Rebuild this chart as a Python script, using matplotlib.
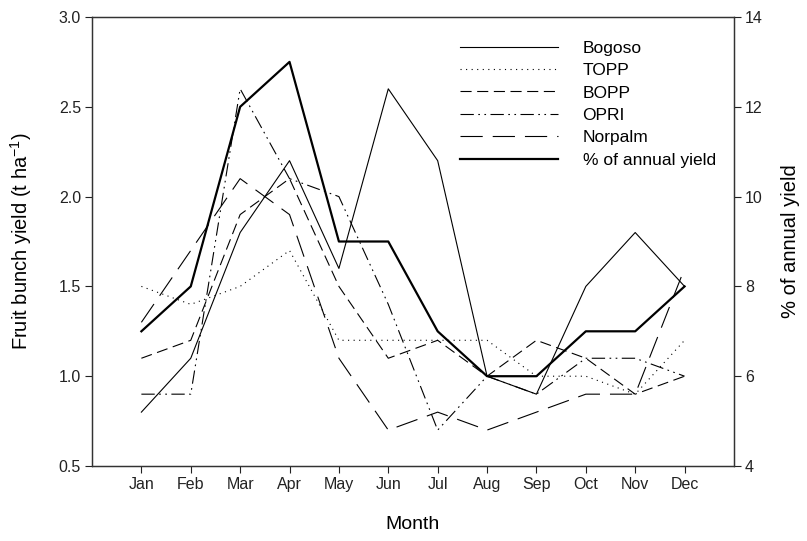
import matplotlib
matplotlib.use("Agg")
import matplotlib.pyplot as plt

plt.rcParams['font.family'] = ['Liberation Sans', 'DejaVu Sans']

# monthly fruit bunch yield (t/ha) per site
months = ['Jan', 'Feb', 'Mar', 'Apr', 'May', 'Jun',
          'Jul', 'Aug', 'Sep', 'Oct', 'Nov', 'Dec']
bogoso = [0.8, 1.1, 1.8, 2.2, 1.6, 2.6, 2.2, 1.0, 0.9, 1.5, 1.8, 1.5]
topp = [1.5, 1.4, 1.5, 1.7, 1.2, 1.2, 1.2, 1.2, 1.0, 1.0, 0.9, 1.2]
bopp = [1.1, 1.2, 1.9, 2.1, 1.5, 1.1, 1.2, 1.0, 1.2, 1.1, 0.9, 1.0]
opri = [0.9, 0.9, 2.6, 2.1, 2.0, 1.4, 0.7, 1.0, 0.9, 1.1, 1.1, 1.0]
norpalm = [1.3, 1.7, 2.1, 1.9, 1.1, 0.7, 0.8, 0.7, 0.8, 0.9, 0.9, 1.6]
# share of the annual yield (%)
pct_annual = [7, 8, 12, 13, 9, 9, 7, 6, 6, 7, 7, 8]

x = list(range(1, 13))

fig = plt.figure(figsize=(8.07, 5.41), dpi=100)
ax = fig.add_axes([0.114, 0.1386, 0.7955, 0.83])
ax2 = ax.twinx()

thin = 0.8
l1, = ax.plot(x, bogoso, color='black', lw=thin, ls='-', label='Bogoso')
l2, = ax.plot(x, topp, color='black', lw=thin, ls=(0, (1, 4)), label='TOPP')
l3, = ax.plot(x, bopp, color='black', lw=thin, ls=(0, (10, 5)), label='BOPP')
l4, = ax.plot(x, opri, color='black', lw=thin,
              ls=(0, (12, 4, 1.5, 4, 1.5, 4)), label='OPRI')
l5, = ax.plot(x, norpalm, color='black', lw=thin, ls=(0, (20, 9)), label='Norpalm')
l6, = ax2.plot(x, pct_annual, color='black', lw=1.6, ls='-', label='% of annual yield')

ax.set_xlim(0, 13)
ax.set_ylim(0.5, 3.0)
ax2.set_ylim(4, 14)
ax.set_xticks(x)
ax.set_xticklabels(months)
ax.set_yticks([0.5, 1.0, 1.5, 2.0, 2.5, 3.0])
ax2.set_yticks([4, 6, 8, 10, 12, 14])

for a in (ax, ax2):
    a.tick_params(direction='out', length=5, width=0.8, labelsize=11.5,
                  colors='#222222', pad=3)
    for s in a.spines.values():
        s.set_linewidth(0.9)
        s.set_color('#333333')

ax.set_xlabel('Month', fontsize=14)
ax.set_ylabel('Fruit bunch yield (t ha$^{\\mathregular{-1}}$)', fontsize=14.5)
ax2.set_ylabel('% of annual yield', fontsize=14.5)
ax.xaxis.set_label_coords(0.5, -0.112)
ax.yaxis.set_label_coords(-0.090, 0.5)
ax2.yaxis.set_label_coords(1.073, 0.5)

handles = [l1, l2, l3, l4, l5, l6]
ax.legend(handles, [h.get_label() for h in handles], loc='upper left',
          bbox_to_anchor=(0.551, 0.954), bbox_transform=fig.transFigure,
          frameon=False, fontsize=12.5, handlelength=5.6, handletextpad=1.44,
          labelspacing=0.42)

fig.savefig('out.png', dpi=100)
